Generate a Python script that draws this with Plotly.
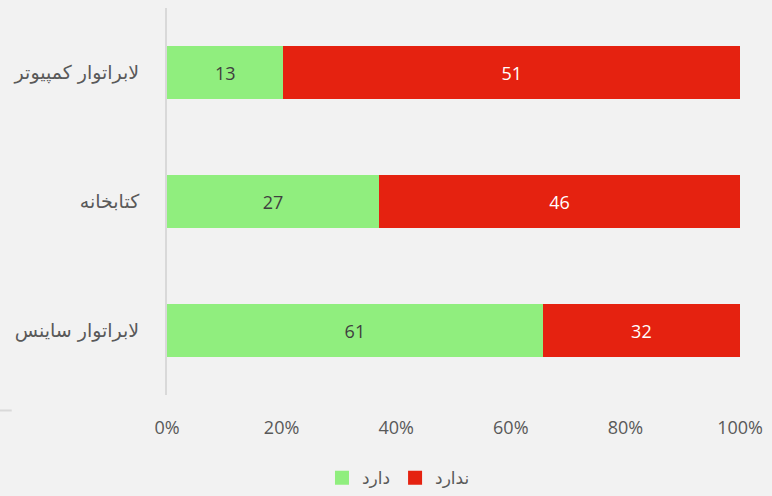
import plotly.graph_objects as go

categories = ["لابراتوار ساینس", "کتابخانه", "لابراتوار کمپیوتر"]
has_values = [61, 27, 13]
hasnot_values = [32, 46, 51]
series_names = ["دارد", "ندارد"]
colors = ["#90ee7e", "#e52210"]

fig = go.Figure()
fig.add_trace(go.Bar(
    y=categories, x=has_values, name=series_names[0], orientation="h",
    marker=dict(color=colors[0], line=dict(width=0)),
    text=has_values, textposition="inside", insidetextanchor="middle",
    textfont=dict(color="#404040", size=18, family="Open Sans"),
    hoverinfo="x+y+name", showlegend=False,
))
fig.add_trace(go.Bar(
    y=categories, x=hasnot_values, name=series_names[1], orientation="h",
    marker=dict(color=colors[1], line=dict(width=0)),
    text=hasnot_values, textposition="inside", insidetextanchor="middle",
    textfont=dict(color="white", size=18, family="Open Sans"),
    hoverinfo="x+y+name", showlegend=False,
))
# legend entries with bigger square swatches
for name, col in zip(series_names, colors):
    fig.add_trace(go.Scatter(x=[None], y=[None], mode="markers", name=name,
                             marker=dict(symbol="square", size=14, color=col)))

fig.update_layout(
    barmode="stack", barnorm="percent", bargap=0.59,
    width=772, height=496,
    margin=dict(l=167, r=32, t=8, b=101, autoexpand=False),
    paper_bgcolor="#f2f2f2", plot_bgcolor="#f2f2f2",
    font=dict(family="Open Sans", color="#595959"),
    showlegend=True,
    legend=dict(orientation="h", x=0.404, xanchor="center", y=-0.215, yanchor="middle",
                font=dict(size=17, family="DejaVu Sans", color="#595959"),
                traceorder="normal", itemwidth=30),
)
fig.update_xaxes(range=[0, 100], dtick=20, ticksuffix="%", showgrid=False, zeroline=False,
                 ticks="outside", ticklen=16, tickcolor="#f2f2f2",
                 tickfont=dict(size=18, family="Open Sans", color="#595959"), fixedrange=True)
fig.update_yaxes(showline=True, linecolor="#d9d9d9", linewidth=2, showgrid=False,
                 ticks="outside", ticklen=22, tickcolor="#f2f2f2",
                 tickfont=dict(size=19, family="DejaVu Sans", color="#595959"),
                 range=[-0.5, 2.5])
fig.add_shape(type="line", xref="paper", yref="paper", x0=-0.292, x1=-0.271, y0=-0.04, y1=-0.04,
              line=dict(color="#d9d9d9", width=2))

fig.write_html("out.html", config={"displayModeBar": False},
               post_script="document.body.style.margin='0';")
